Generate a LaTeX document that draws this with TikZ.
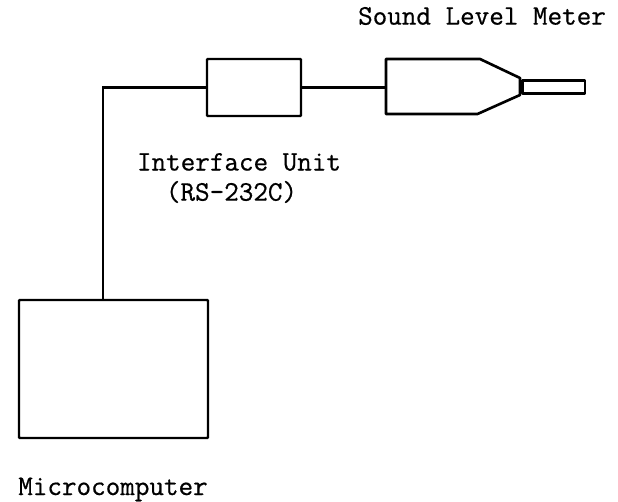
\documentclass[tikz,border=0pt]{standalone}
\usepackage{fontspec}
\setmonofont[FakeBold=0.6]{Latin Modern Mono}
\tikzset{
    unitbox/.style={draw,line width=1.4pt,rounded corners=0.5pt,inner sep=0pt},
    wire/.style={line width=1.3pt},
    caption/.style={inner sep=0pt,font=\ttfamily\bfseries\fontsize{16.1}{18}\selectfont}
}
\begin{document}
\begin{tikzpicture}
    \useasboundingbox (0,0) rectangle (12.36,10.02);
    % boxes
    \node[unitbox,minimum width=1.88cm,minimum height=1.14cm] (iface) at (5.08,8.27) {};
    \node[unitbox,minimum width=3.78cm,minimum height=2.76cm] (micro) at (2.27,2.64) {};
    \coordinate (port) at (2.06,4.02);
    \coordinate (meter) at (7.72,8.27);
    % sound level meter
    \draw[line width=1.5pt,line join=round] (meter) |- (9.6,8.84) -- (10.4,8.46) -- (10.4,8.12) -- (9.55,7.74) -| (meter);
    \draw[line width=1.6pt,line join=round] (10.45,8.41) rectangle (11.7,8.15);
    % connectors
    \draw[wire] (iface.west) -| (port);
    \draw[wire] (iface.east) -- (meter);
    % labels
    \node[caption] (metername) at (9.64,9.7) {Sound Level Meter};
    \node[caption] (ifacename) at (4.78,6.78) {Interface Unit};
    \node[caption] (ifaceport) at (4.63,6.18) {(RS-232C)};
    \node[caption] (microname) at (2.26,0.23) {Microcomputer};
\end{tikzpicture}
\end{document}
